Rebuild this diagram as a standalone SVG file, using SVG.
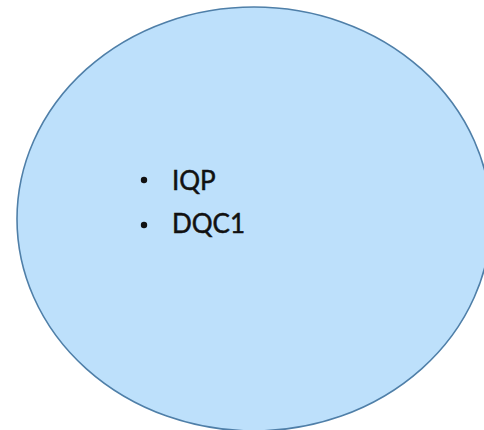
<svg xmlns="http://www.w3.org/2000/svg" width="484" height="430" viewBox="0 0 484 430">
<style>
.bubble{fill:#bde0fb;stroke:#4f7fa8;stroke-width:1.6}
.item{font-family:Lato,"Open Sans",sans-serif;font-size:26px;fill:#111;stroke:#111;stroke-width:0.5}
.dot{fill:#111}
</style>
<rect width="484" height="430" fill="#ffffff"/>
<g id="set">
<ellipse class="bubble" cx="254" cy="219" rx="237" ry="212"/>
</g>
<g id="item-iqp">
<circle class="dot" cx="144" cy="180" r="3.2"/>
<text class="item" x="172" y="190">IQP</text>
</g>
<g id="item-dqc1">
<circle class="dot" cx="144" cy="225" r="3.2"/>
<text class="item" x="172" y="233">DQC1</text>
</g>
<g id="connectors"></g>
</svg>
